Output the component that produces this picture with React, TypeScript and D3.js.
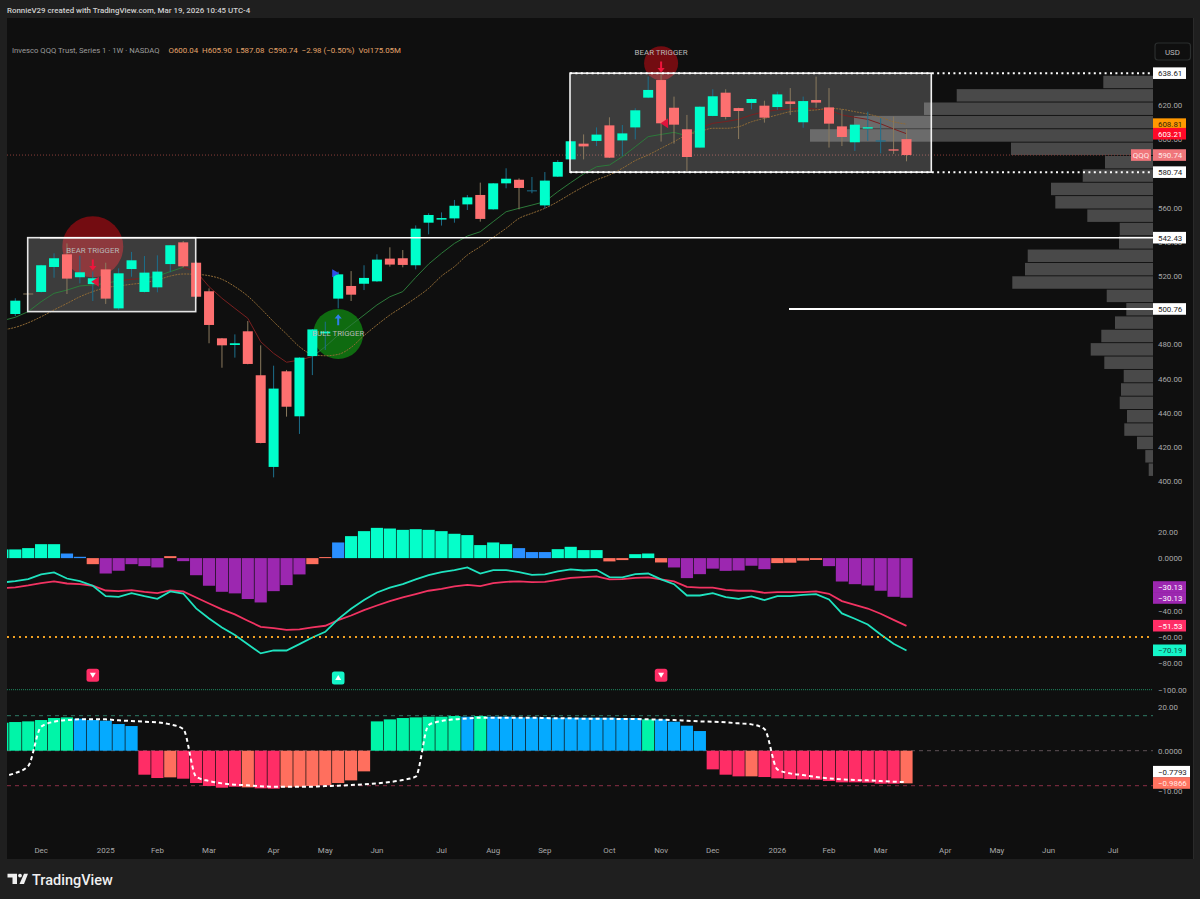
import React from 'react';
import * as d3 from 'd3';

// weekly candles, index 0 = first full bar on screen
const opens = [497.8,509.8,510.7,525.3,532.7,519.3,515.3,523.9,501.1,524.1,510.7,513.4,527.0,539.7,527.8,511.1,483.6,479.7,487.7,462.0,408.4,464.3,438.0,473.2,486.5,506.8,514.2,515.5,516.9,530.2,530.4,526.3,551.2,553.0,553.7,561.9,567.4,559.0,574.2,576.3,569.7,561.3,578.1,588.2,597.4,599.0,608.1,599.3,606.9,624.3,634.6,618.4,605.8,595.1,613.6,627.2,618.2,621.2,619.6,618.8,622.1,609.9,622.9,618.6,607.5,598.2,606.2,598.6,594.1,600.04];
const highs = [507.0,510.0,526.6,533.3,539.1,531.9,522.6,527.8,524.5,534.1,531.7,532.1,538.2,540.5,528.4,512.8,483.8,485.9,493.7,479.5,467.6,465.1,472.5,489.0,493.3,522.6,522.9,526.3,532.7,536.8,535.2,549.6,556.7,557.2,564.5,567.4,574.6,574.4,583.0,577.1,577.9,580.8,587.8,599.0,602.8,606.9,612.8,608.3,618.1,636.6,638.6,624.9,614.2,619.2,629.2,629.2,618.4,623.7,622.5,627.8,629.9,624.9,636.6,629.9,617.5,608.6,616.1,612.2,613.2,605.9];
const lows = [496.6,509.2,510.4,519.0,509.5,515.7,505.4,503.7,500.2,519.6,510.4,510.5,522.2,525.1,506.9,480.7,466.4,472.3,468.4,422.2,402.3,437.8,427.7,462.1,476.8,501.1,505.4,511.8,516.6,525.5,525.1,523.9,544.4,549.5,551.2,558.6,551.8,558.8,571.3,559.0,568.4,559.6,577.9,588.0,588.2,596.0,589.0,590.2,599.9,624.0,598.6,597.4,581.0,595.0,613.4,611.6,600.1,617.5,609.7,617.1,614.2,606.7,618.4,595.1,596.0,593.1,599.0,591.7,591.4,587.08];
const closes = [505.6,509.3,526.3,530.4,518.5,522.2,518.7,506.8,521.6,529.2,522.0,522.6,538.0,525.7,507.9,491.4,479.5,480.7,468.6,422.4,454.2,443.6,472.3,488.8,487.5,521.0,509.1,518.9,529.6,526.7,526.5,547.7,555.7,553.9,561.1,566.0,553.4,574.2,576.9,571.5,570.1,575.8,586.7,598.8,595.8,602.7,589.2,603.4,616.9,628.8,609.3,608.5,589.6,619.0,625.1,613.0,616.5,623.5,612.6,626.2,620.6,622.3,621.4,609.1,601.3,608.5,607.0,599.3,593.3,590.74];

// moving averages and the indicators start one bar earlier (index -1), clipped at the pane edge
const fastMa = [493.9,495.9,499.2,505.0,509.9,511.8,514.2,514.8,515.7,517.3,518.1,518.7,520.0,522.6,525.1,522.6,513.8,507.0,501.1,495.3,481.6,474.8,469.6,470.9,472.9,478.7,485.5,491.4,497.2,503.1,507.9,510.9,519.2,527.0,533.3,539.1,543.4,545.9,551.8,557.6,559.6,561.5,563.5,569.3,574.6,579.7,583.9,584.9,589.8,595.6,601.5,602.8,604.0,602.0,606.4,609.3,610.3,611.6,614.2,616.1,617.1,617.6,618.4,617.5,617.1,614.2,612.8,611.6,609.0,606.0,603.21];
const slowMa = [488.5,490.0,492.7,496.2,500.2,504.0,507.9,510.9,513.2,514.2,515.2,516.1,517.7,520.0,521.2,521.0,520.2,518.1,513.8,508.3,501.1,493.3,486.1,478.7,474.2,473.4,474.2,478.3,485.2,491.4,497.2,502.1,507.2,512.8,520.0,525.5,532.3,537.2,542.6,547.9,553.7,556.7,559.6,563.5,568.0,572.3,576.2,579.1,583.0,587.5,590.8,594.7,598.6,602.5,604.4,606.4,606.4,607.3,610.2,612.2,614.2,616.1,616.7,617.1,618.0,617.5,616.1,614.7,612.8,610.2,608.81];
const fastRuns: [number, number, string][] = [[-1,8,'#2c7a3a'],[8,10,'#7a2020'],[10,13,'#2c7a3a'],[13,23,'#7a2020'],[23,53,'#2c7a3a'],[53,69,'#7a2020']];

const profileVolume = [49.7,196.3,229,299,343,142,48,70.3,102,97.7,65.7,33.3,34,125.3,128,140.7,46.3,26.7,38,51.7,62.3,48.7,29.3,32,33.3,26,28.7,16,7.7,4.3];

const macdHist = [6.6,6.6,7.6,10.6,10.6,3.5,1,-4.6,-11.7,-9.6,-4.6,-6.1,-7.1,1.5,-2.3,-13,-21,-25.6,-26.8,-31.1,-33.7,-25.1,-20.5,-12.4,-4.6,0.8,11.9,16.7,20.5,23,22.5,21.5,22,21.5,20.5,18.5,17.5,9.9,11.9,10.6,7.6,4.6,4.6,6.8,8.6,6.1,6.1,-2.5,-1.5,3,3.5,-3.3,-7.1,-15.2,-12.2,-8,-9.7,-9.4,-5.8,-8.4,-3.8,-3.5,-1.9,-1.4,-6.1,-17.8,-19.8,-20.8,-24.8,-29.4,-30.13];
const macdHistColor = ['t','t','t','t','t','b','b','o','p','p','p','p','p','o','p','p','p','p','p','p','p','p','p','p','o','o','b','t','t','t','t','t','t','t','t','t','t','t','t','t','b','b','b','t','t','t','t','o','o','t','t','o','p','p','p','p','p','p','p','p','o','o','o','o','p','p','p','p','p','p','p'];
const macdLine = [-18.5,-17.5,-16.0,-12.4,-10.9,-15.5,-17.5,-21.0,-28.9,-29.4,-26.6,-28.9,-30.9,-25.3,-26.9,-38.2,-45.9,-52.7,-58.5,-65.4,-72.4,-70.2,-70.2,-65.4,-60.3,-56.0,-46.4,-38.5,-31.9,-26.1,-22.5,-19.8,-16.2,-12.9,-10.6,-9.1,-7.1,-11.7,-9.1,-9.1,-10.6,-12.7,-12.4,-10.1,-8.6,-9.4,-8.9,-14.4,-14.7,-12.2,-11.7,-16.2,-19.8,-28.4,-28.4,-26.6,-29.6,-30.9,-29.1,-31.9,-28.9,-28.9,-27.9,-27.4,-31.4,-42.0,-46.1,-50.4,-58.0,-65.1,-70.19];
const signalLine = [-22.8,-22.3,-20.8,-19.0,-17.7,-19.3,-19.8,-21.0,-24.6,-25.1,-24.3,-25.6,-26.6,-24.6,-25.3,-29.9,-34.5,-39.0,-42.8,-47.6,-52.2,-53.2,-54.5,-54.2,-52.7,-51.4,-47.1,-43.6,-39.5,-36.0,-32.7,-29.9,-27.4,-24.8,-23.3,-21.5,-20.3,-21.3,-19.0,-18.0,-17.7,-18.2,-18.0,-16.5,-15.0,-14.4,-13.9,-16.2,-16.0,-15.0,-14.7,-16.2,-17.7,-21.8,-22.5,-22.5,-24.1,-24.8,-24.8,-26.4,-25.8,-25.8,-25.8,-25.3,-27.1,-32.7,-35.5,-38.3,-42.3,-46.9,-51.53];

const lowerHist = [0.84,0.86,0.88,0.92,0.98,1.0,0.96,0.92,0.9,0.8,0.74,-0.72,-0.82,-0.8,-0.84,-0.97,-1.06,-1.11,-1.08,-1.1,-1.13,-1.14,-1.1,-1.08,-1.06,-1.03,-0.97,-0.89,-0.62,0.88,0.94,0.98,1.0,1.02,1.02,1.04,1.02,1.04,1.02,1.02,1.0,1.0,1.0,0.99,0.99,0.99,0.99,0.99,0.98,0.98,0.94,0.94,0.87,0.75,0.59,-0.56,-0.72,-0.77,-0.77,-0.79,-0.83,-0.85,-0.86,-0.87,-0.91,-0.95,-0.95,-0.96,-0.99,-0.99,-0.98];
const lowerHistColor = ['g','g','g','g','g','g','b','b','b','b','b','k','k','o','k','k','k','k','k','o','k','k','o','o','o','o','o','o','o','g','g','g','g','g','g','g','b','g','b','b','b','b','b','b','b','b','b','b','b','b','g','b','b','b','b','k','k','k','o','k','k','k','k','k','k','k','k','k','k','k','o'];
const lowerLine = [-0.78,-0.67,-0.46,0.72,0.87,0.92,0.94,0.94,0.94,0.91,0.89,0.87,0.85,0.79,0.65,-0.78,-0.91,-0.98,-1.02,-1.04,-1.07,-1.08,-1.08,-1.08,-1.08,-1.06,-1.05,-1.03,-1.01,-0.98,-0.94,-0.88,-0.78,0.77,0.89,0.94,0.97,0.99,0.99,0.99,0.99,0.99,0.98,0.97,0.97,0.96,0.96,0.96,0.95,0.95,0.94,0.93,0.92,0.9,0.88,0.87,0.85,0.82,0.79,0.65,-0.56,-0.68,-0.73,-0.79,-0.83,-0.86,-0.88,-0.89,-0.91,-0.93,-0.94];

const priceTicks = [620,600,580,560,540,520,500,480,460,440,420,400];
const macdTicks = [20,0,-40,-60,-80,-100];
const lowerTicks = [20,0,-10];
const timeLabels: [number, string][] = [[2,'Dec'],[7,'2025'],[11,'Feb'],[15,'Mar'],[20,'Apr'],[24,'May'],[28,'Jun'],[33,'Jul'],[37,'Aug'],[41,'Sep'],[46,'Oct'],[50,'Nov'],[54,'Dec'],[59,'2026'],[63,'Feb'],[67,'Mar'],[72,'Apr'],[76,'May'],[80,'Jun'],[85,'Jul']];
const legendValues = ['O600.04','H605.90','L587.08','C590.74','−2.98 (−0.50%)','Vol175.05M'];

const FONT = 'Roboto, sans-serif';
const FS = 7.9;
const BG = '#0f0f0f';
const AXIS = '#a9a9a9';
const UP = '#00ffcc';
const DOWN = '#fd7070';
const histColors: Record<string, string> = { t: '#05ffca', b: '#2a8fff', o: '#ff6f5e', p: '#9c27b0', g: '#00f5a8', k: '#ff2d66', c: '#05aaff' };

const x = d3.scaleLinear().domain([0, 69]).range([15.3, 906.5]);
const y = d3.scaleLinear().domain([400, 620]).range([481.3, 105]);
const macdY = d3.scaleLinear().domain([-100, 20]).range([689.7, 531.8]);
const lowerY = d3.scaleLinear().domain([-10, -1.2, 0, 1.2, 20]).range([791.5, 790.7, 750.7, 710.7, 707]);
const profileW = d3.scaleLinear().domain([0, 343]).range([0, 343]);
const ticksFmt = (v: number) => (v === 0 ? '0.0000' : d3.format('.2f')(v));

const AXIS_X = 1153;
const LEFT = 7;

function Tag({ yPos, label, bg, color, w = 33 }: { yPos: number; label: string; bg: string; color: string; w?: number }) {
  return (
    <g>
      <rect x={AXIS_X} y={yPos - 5.8} width={w} height={11.6} fill={bg} />
      <text x={1158} y={yPos + 2.9} fontSize={FS} fill={color} fontFamily={FONT}>{label}</text>
    </g>
  );
}

function Arrow({ cx, cy, dir, color }: { cx: number; cy: number; dir: 1 | -1; color: string }) {
  const h = 5.5 * dir;
  return <path d={`M${cx - 1},${cy - h} L${cx + 1},${cy - h} L${cx + 1},${cy + h * 0.2} L${cx + 3.6},${cy + h * 0.2} L${cx},${cy + h} L${cx - 3.6},${cy + h * 0.2} L${cx - 1},${cy + h * 0.2} Z`} fill={color} />;
}

function TriggerLabel({ i, label, labelY, arrowY, dir, arrowColor }: { i: number; label: string; labelY: number; arrowY: number; dir: 1 | -1; arrowColor: string }) {
  return (
    <g>
      <text x={x(i)} y={labelY + 2.8} textAnchor="middle" fontSize={FS} fill="#b8b8b8" fontFamily={FONT}>{label}</text>
      <Arrow cx={x(i)} cy={arrowY} dir={dir} color={arrowColor} />
    </g>
  );
}

function Signal({ i, cy, up }: { i: number; cy: number; up: boolean }) {
  const cx = x(i);
  const fill = up ? '#14f5c8' : '#ff2d66';
  return (
    <g>
      <rect x={cx - 6.3} y={cy - 6.5} width={12.6} height={13} rx={2.5} fill={fill} />
      <path d={up ? `M${cx - 3},${cy + 2} L${cx + 3},${cy + 2} L${cx},${cy - 3} Z` : `M${cx - 3},${cy - 2.5} L${cx + 3},${cy - 2.5} L${cx},${cy + 2.5} Z`} fill="#fff" />
    </g>
  );
}

export default function App() {
  const slow = d3.line<number>().x((_, i) => x(i - 1)).y((d) => y(d)).curve(d3.curveMonotoneX);
  const macdPath = d3.line<number>().x((_, i) => x(i - 1)).y((d) => macdY(d));
  const lowerPath = d3.line<number>().x((_, i) => x(i - 1)).y((d) => lowerY(d)).curve(d3.curveMonotoneX);

  const profilePitch = 7.816;
  const profileTop = 637.1;

  return (
    <svg width={1200} height={899} style={{ position: 'fixed', left: 0, top: 0, display: 'block' }}>
      <defs>
        <clipPath id="pane"><rect x={LEFT} y={18} width={AXIS_X - LEFT} height={841} /></clipPath>
        <clipPath id="lowerAxis"><rect x={AXIS_X} y={703} width={47} height={100} /></clipPath>
      </defs>
      <rect width={1200} height={899} fill="#1f1f1f" />
      <rect x={LEFT} y={18} width={1186} height={841} fill={BG} />
      <text x={7} y={12.5} fontSize={7.9} fontWeight={500} fill="#d0d0d0" fontFamily={FONT}>RonnieV29 created with TradingView.com, Mar 19, 2026 10:45 UTC-4</text>

      <text x={12} y={52.5} fontSize={7.7} fill="#9c9c9c" fontFamily={FONT}>Invesco QQQ Trust, Series 1 · 1W · NASDAQ</text>
      <text x={168.5} y={52.5} fontSize={7.9} fill="#e5a56b" fontFamily={FONT} xmlSpace="preserve">{legendValues.join('  ')}</text>

      <rect x={1155} y={43} width={35.5} height={17} rx={3} fill="none" stroke="#2b2e2e" strokeWidth={1.2} />
      <text x={1172.5} y={54.6} textAnchor="middle" fontSize={FS} fill="#bdbdbd" fontFamily={FONT}>USD</text>

      {/* right hand price ticks, tags go on top later */}
      {priceTicks.map((t) => (
        <text key={t} x={1158} y={y(t) + 2.9} fontSize={FS} fill={AXIS} fontFamily={FONT}>{d3.format('.2f')(t)}</text>
      ))}
      {macdTicks.map((t) => (
        <text key={t} x={1158} y={macdY(t) + 2.9} fontSize={FS} fill={AXIS} fontFamily={FONT}>{ticksFmt(t)}</text>
      ))}
      <g clipPath="url(#lowerAxis)">
        {lowerTicks.map((t) => (
          <text key={t} x={1158} y={lowerY(t) + 2.9} fontSize={FS} fill={AXIS} fontFamily={FONT}>{ticksFmt(t)}</text>
        ))}
      </g>

      {/* volume profile */}
      {profileVolume.map((v, i) => {
        const top = y(profileTop - i * profilePitch);
        const bot = y(profileTop - (i + 1) * profilePitch);
        return <rect key={i} x={AXIS_X - profileW(v)} y={top} width={profileW(v)} height={bot - top - 0.9} fill="#fff" fillOpacity={0.245} />;
      })}

      <line x1={LEFT} x2={AXIS_X} y1={y(590.74)} y2={y(590.74)} stroke="#8a3f3a" strokeWidth={1} strokeDasharray="1 2" />

      <circle cx={x(6)} cy={246.7} r={30.5} fill="#730c11" />
      <circle cx={x(50)} cy={63.3} r={17} fill="#730c11" />
      <circle cx={x(25)} cy={334} r={25} fill="#0f6b10" />

      <rect x={27.7} y={y(542.43)} width={168} height={y(499.2) - y(542.43)} fill="#fff" fillOpacity={0.19} />
      <rect x={570} y={y(638.61)} width={361.3} height={y(580.74) - y(638.61)} fill="#fff" fillOpacity={0.19} />

      <g clipPath="url(#pane)" fill="none">
        {fastRuns.map(([a, b, c]) => (
          <path key={a} d={d3.line<number>().x((_, i) => x(a + i)).y((d) => y(d))(fastMa.slice(a + 1, b + 2)) as string} stroke={c} strokeWidth={1} />
        ))}
        <path d={slow(slowMa) as string} stroke="#8f6a35" strokeWidth={1} strokeDasharray="2 1" />
      </g>

      {/* candles */}
      {closes.map((c, i) => {
        const o = opens[i];
        const up = c >= o;
        const top = y(Math.max(o, c));
        const h = Math.abs(y(o) - y(c));
        const wick = up ? '#1d6f8c' : '#8b7a5e';
        const thin = h < 1.2;
        return (
          <g key={i}>
            <line x1={x(i)} x2={x(i)} y1={y(highs[i])} y2={y(lows[i])} stroke={wick} strokeWidth={1} />
            <rect x={x(i) - 5} y={top} width={10} height={Math.max(h, 1)} fill={thin ? wick : up ? UP : DOWN} />
          </g>
        );
      })}

      {/* box outlines and horizontal levels */}
      <rect x={27.7} y={y(542.43)} width={168} height={y(499.2) - y(542.43)} fill="none" stroke="#e6e6e6" strokeWidth={1.6} />
      <rect x={570} y={y(638.61)} width={361.3} height={y(580.74) - y(638.61)} fill="none" stroke="#f2f2f2" strokeWidth={1.6} />
      <line x1={570} x2={AXIS_X} y1={y(638.61)} y2={y(638.61)} stroke="#fff" strokeWidth={2} strokeDasharray="2 3.4" />
      <line x1={570} x2={AXIS_X} y1={y(580.74)} y2={y(580.74)} stroke="#fff" strokeWidth={2} strokeDasharray="2 3.4" />
      <line x1={40} x2={AXIS_X} y1={y(542.43)} y2={y(542.43)} stroke="#fff" strokeWidth={1.6} />
      <line x1={789} x2={AXIS_X} y1={y(500.76)} y2={y(500.76)} stroke="#fff" strokeWidth={2} />

      <TriggerLabel i={6} label="BEAR TRIGGER" labelY={250.3} arrowY={265} dir={1} arrowColor="#f0143c" />
      <TriggerLabel i={50} label="BEAR TRIGGER" labelY={51.7} arrowY={67} dir={1} arrowColor="#f0143c" />
      <TriggerLabel i={25} label="BULL TRIGGER" labelY={333} arrowY={319.7} dir={-1} arrowColor="#2f7fe8" />

      <path d={`M${x(6) + 7},${y(518.4) - 5} L${x(6) + 7},${y(518.4) + 5} L${x(6) - 0.5},${y(518.4)} Z`} fill="#e0143c" transform="translate(-1,3)" />
      <path d={`M${x(50) + 7},${y(609.3) - 5} L${x(50) + 7},${y(609.3) + 5} L${x(50) - 0.5},${y(609.3)} Z`} fill="#e0143c" />
      <path d={`M${x(25) - 6},${y(521) - 4} L${x(25) - 6},${y(521) + 4} L${x(25) + 1},${y(521)} Z`} fill="#2f4fe8" transform="translate(0,-1)" />

      {/* MACD pane */}
      {macdHist.map((v, i) => (
        <rect key={i} x={x(i - 1) - 6.1} y={Math.min(macdY(0), macdY(v))} width={12.2} height={Math.max(Math.abs(macdY(v) - macdY(0)), 1)} fill={histColors[macdHistColor[i]]} clipPath="url(#pane)" />
      ))}
      <g clipPath="url(#pane)" fill="none" strokeWidth={1.8}>
        <path d={macdPath(signalLine) as string} stroke="#f23362" />
        <path d={macdPath(macdLine) as string} stroke="#1fe3bf" />
      </g>
      <line x1={LEFT} x2={AXIS_X} y1={macdY(-60)} y2={macdY(-60)} stroke="#f0a021" strokeWidth={2} strokeDasharray="2 4" />
      <line x1={LEFT} x2={AXIS_X} y1={macdY(-100)} y2={macdY(-100)} stroke="#1e8a62" strokeWidth={1} strokeDasharray="1 1" />
      <Signal i={6} cy={675.3} up={false} />
      <Signal i={25} cy={678} up={true} />
      <Signal i={50} cy={675.3} up={false} />

      {/* lower oscillator pane */}
      <line x1={LEFT} x2={AXIS_X} y1={lowerY(1.05)} y2={lowerY(1.05)} stroke="#2f7a66" strokeDasharray="4 4" />
      <line x1={LEFT} x2={AXIS_X} y1={lowerY(0)} y2={lowerY(0)} stroke="#5e5056" strokeDasharray="4 4" />
      <line x1={LEFT} x2={AXIS_X} y1={lowerY(-1.05)} y2={lowerY(-1.05)} stroke="#8a2f45" strokeDasharray="4 4" />
      {lowerHist.map((v, i) => (
        <rect key={i} x={x(i - 1) - 6.1} y={Math.min(lowerY(0), lowerY(v))} width={12.2} height={Math.abs(lowerY(v) - lowerY(0))} fill={histColors[lowerHistColor[i] === 'b' ? 'c' : lowerHistColor[i]]} clipPath="url(#pane)" />
      ))}
      <path d={lowerPath(lowerLine) as string} fill="none" stroke="#fff" strokeWidth={2} strokeDasharray="4 3" clipPath="url(#pane)" />

      {/* value tags on the axis */}
      <Tag yPos={y(638.61)} label="638.61" bg="#fff" color="#222" />
      <Tag yPos={y(608.81)} label="608.81" bg="#ff9800" color="#33240a" />
      <Tag yPos={y(603.21)} label="603.21" bg="#ff0a28" color="#fff" />
      <rect x={1131} y={y(590.74) - 5.8} width={20} height={11.6} fill="#f0767b" />
      <text x={1141} y={y(590.74) + 2.9} textAnchor="middle" fontSize={FS} fill="#ffe9e9" fontFamily={FONT}>QQQ</text>
      <Tag yPos={y(590.74)} label="590.74" bg="#f0767b" color="#ffe9e9" />
      <Tag yPos={y(580.74)} label="580.74" bg="#fff" color="#222" />
      <Tag yPos={y(542.43)} label="542.43" bg="#fff" color="#222" />
      <Tag yPos={y(500.76)} label="500.76" bg="#fff" color="#222" />
      <Tag yPos={587} label="−30.13" bg="#9c27b0" color="#fff" />
      <Tag yPos={598} label="−30.13" bg="#9c27b0" color="#fff" />
      <Tag yPos={625.7} label="−51.53" bg="#ff2d66" color="#fff" />
      <Tag yPos={650.3} label="−70.19" bg="#14f5c8" color="#14483d" />
      <Tag yPos={771.7} label="−0.7793" bg="#fff" color="#222" w={37} />
      <Tag yPos={783} label="−0.9866" bg="#ff7360" color="#ffe9e4" w={37} />

      {timeLabels.map(([i, label]) => (
        <text key={`${label}${i}`} x={x(i)} y={853} textAnchor="middle" fontSize={FS} fill={AXIS} fontFamily={FONT}>{label}</text>
      ))}
      <line x1={1193.5} x2={1193.5} y1={18} y2={859} stroke="#2a2a2a" />

      <g fill="#f0f0f0">
        <path d="M7.5,873.7 H17 V884 H12.5 V877.4 H7.5 Z" />
        <circle cx={20} cy={875.6} r={1.9} />
        <path d="M24,873.7 H28 L24,884 H19.5 Z" />
      </g>
      <text x={32} y={885} fontSize={14.5} fontWeight={500} fill="#f0f0f0" fontFamily={FONT}>TradingView</text>
    </svg>
  );
}
